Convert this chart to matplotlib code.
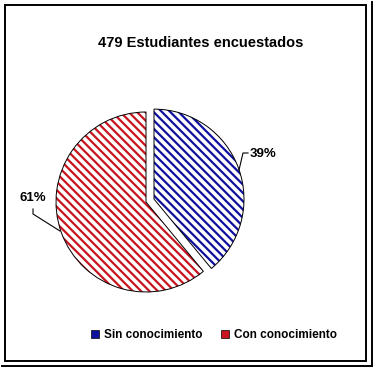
import matplotlib.pyplot as plt
from matplotlib.patches import Rectangle, Patch
from matplotlib.lines import Line2D

plt.rcParams['font.family'] = ['Liberation Sans', 'DejaVu Sans']
plt.rcParams['hatch.linewidth'] = 1.6

# datos
categorias = ["Sin conocimiento", "Con conocimiento"]
valores = [39, 61]
etiquetas = ["39%", "61%"]
colores_linea = ["#1010a0", "#c8141e"]
titulo = "479 Estudiantes encuestados"

W, H = 374, 369
fig = plt.figure(figsize=(W / 100, H / 100), dpi=100)
fig.patch.set_facecolor("white")

# marco
fig.add_artist(Rectangle((5 / W, 1 - 361 / H), 361 / W, 356 / H, transform=fig.transFigure,
                         fill=False, edgecolor="black", linewidth=1.4))
fig.add_artist(Line2D([372 / W, 372 / W], [1 - 366 / H, 1 - 2 / H], transform=fig.transFigure,
                      color="black", linewidth=1.4))
fig.add_artist(Line2D([2 / W, 372 / W], [1 - 366 / H, 1 - 366 / H], transform=fig.transFigure,
                      color="black", linewidth=1.4))

# pastel: centro (146, 202) px, radio 90 px
cx, cy, r = 146, 202, 90
ax = fig.add_axes([(cx - 100) / W, 1 - (cy + 100) / H, 200 / W, 200 / H])

explode = [0.085, 0]
wedges, _ = ax.pie(valores, startangle=90, counterclock=False, radius=r / 100,
                   explode=explode, colors=["white", "white"],
                   wedgeprops=dict(linewidth=0))
for w, c in zip(wedges, colores_linea):
    w.set_hatch("\\\\\\\\")
    w.set_edgecolor(c)
# contorno negro
ax.pie(valores, startangle=90, counterclock=False, radius=r / 100, explode=explode,
       wedgeprops=dict(fill=False, edgecolor="black", linewidth=0.7))

ax.set_xlim(-1, 1)
ax.set_ylim(-1, 1)
ax.set_aspect("equal")
ax.axis("off")

def px(x, y):
    return ((x - cx) / 100, (cy - y) / 100)

# etiquetas con lineas guia
ax.plot(*zip(px(239, 170), px(243, 153), px(248, 153)), color="black", lw=0.8, clip_on=False)
ax.text(*px(263, 154), etiquetas[0], ha="center", va="center", fontsize=9.5,
        fontweight="bold", clip_on=False)
ax.plot(*zip(px(60, 231), px(33, 214), px(33, 209)), color="black", lw=0.8, clip_on=False)
ax.text(*px(33, 198), etiquetas[1], ha="center", va="center", fontsize=9.5,
        fontweight="bold", clip_on=False)

fig.text(201 / W, 1 - 43 / H, titulo, ha="center", va="center", fontsize=10.5, fontweight="bold")

handles = [Patch(facecolor=colores_linea[0], edgecolor="black", linewidth=0.5),
           Patch(facecolor=colores_linea[1], edgecolor="black", linewidth=0.5)]
fig.legend(handles, categorias, loc="center", bbox_to_anchor=(214 / W, 1 - 335 / H),
           ncol=2, frameon=False, prop=dict(weight="bold", size=8.5),
           handlelength=0.7, handleheight=0.7, handletextpad=0.4, columnspacing=1.6)

fig.savefig("out.png", dpi=100, facecolor="white")
